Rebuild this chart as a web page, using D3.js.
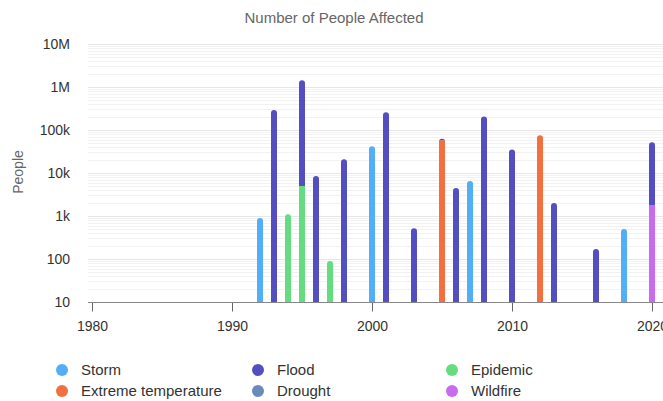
<!DOCTYPE html>
<html>
<head>
<meta charset="utf-8">
<script src="https://cdn.jsdelivr.net/npm/d3@7"></script>
<style>
  body { margin: 0; background: #fff; }
  svg { font-family: "Liberation Sans", Arial, Helvetica, sans-serif; }
</style>
</head>
<body>
<div id="chart"></div>
<script>
// data
const years      = [1992, 1993, 1994, 1995, 1996, 1997, 1998, 2000, 2001, 2003, 2005, 2006, 2007, 2008, 2010, 2012, 2013, 2016, 2018, 2020];
const storm      = [900, 0, 0, 0, 0, 0, 0, 42000, 0, 0, 0, 0, 6500, 0, 0, 0, 0, 0, 500, 0];
const extremeTmp = [0, 0, 0, 0, 0, 0, 0, 0, 0, 0, 58000, 0, 0, 0, 0, 76000, 0, 0, 0, 0];
const epidemic   = [0, 0, 1100, 5000, 0, 90, 0, 0, 0, 0, 0, 0, 0, 0, 0, 0, 0, 0, 0, 0];
const wildfire   = [0, 0, 0, 0, 0, 0, 0, 0, 0, 0, 0, 0, 0, 0, 0, 0, 0, 0, 0, 1800];
const drought    = [0, 0, 0, 0, 0, 0, 0, 0, 0, 0, 0, 0, 0, 0, 0, 0, 0, 0, 0, 0];
const flood      = [0, 290000, 0, 1440000, 8500, 0, 21000, 0, 260000, 520, 5000, 4500, 0, 205000, 35000, 0, 2000, 170, 0, 50000];

const yTicks      = [10, 100, 1e3, 1e4, 1e5, 1e6, 1e7];
const yTickLabels = ["10", "100", "1k", "10k", "100k", "1M", "10M"];
const xTicks      = [1980, 1990, 2000, 2010, 2020];

// stacking order, bottom first
const series = [
  {name: "Storm", values: storm, color: "#52aef7"},
  {name: "Extreme temperature", values: extremeTmp, color: "#f2703f"},
  {name: "Epidemic", values: epidemic, color: "#66dc80"},
  {name: "Wildfire", values: wildfire, color: "#c96bf0"},
  {name: "Drought", values: drought, color: "#6b8abc"},
  {name: "Flood", values: flood, color: "#544fc0"}
];
const legendOrder = ["Storm", "Flood", "Epidemic", "Extreme temperature", "Drought", "Wildfire"];

const width = 663, height = 401;
const svg = d3.select("#chart").append("svg")
    .attr("width", width)
    .attr("height", height);

const x = d3.scaleLinear().domain([1980, 2020]).range([92, 652]);
const y = d3.scaleLog().domain([10, 1e7]).range([302, 44]);
const plotLeft = 88, plotRight = 663;

// minor gridlines
let minor = [];
for (let p = 1; p < 7; p++) {
  for (let m = 2; m < 10; m++) minor.push(m * Math.pow(10, p));
}
svg.append("g").selectAll("line")
  .data(minor)
  .join("line")
    .attr("x1", plotLeft).attr("x2", plotRight)
    .attr("y1", d => Math.round(y(d)) + 0.5).attr("y2", d => Math.round(y(d)) + 0.5)
    .attr("stroke", "#f2f2f2");

// major gridlines
svg.append("g").selectAll("line")
  .data(yTicks.slice(1))
  .join("line")
    .attr("x1", plotLeft).attr("x2", plotRight)
    .attr("y1", d => Math.round(y(d)) + 0.5).attr("y2", d => Math.round(y(d)) + 0.5)
    .attr("stroke", "#e6e6e6");

// y labels
svg.append("g").selectAll("text")
  .data(yTicks)
  .join("text")
    .attr("x", 70)
    .attr("y", d => y(d) + 5)
    .attr("text-anchor", "end")
    .attr("font-size", 14)
    .attr("fill", "#333")
    .text((d, i) => yTickLabels[i]);

svg.append("text")
    .attr("transform", "translate(23,172) rotate(-90)")
    .attr("text-anchor", "middle")
    .attr("font-size", 14)
    .attr("fill", "#666")
    .text("People");

svg.append("text")
    .attr("x", 334).attr("y", 23)
    .attr("text-anchor", "middle")
    .attr("font-size", 15)
    .attr("fill", "#666")
    .text("Number of People Affected");

// stacked bars
const barW = 6;
const segs = [];
years.forEach((yr, i) => {
  let base = 0;
  const parts = series.filter(s => s.values[i] > 0);
  parts.forEach((s, k) => {
    const top = base + s.values[i];
    segs.push({year: yr, lo: base, hi: top, color: s.color, isTop: k === parts.length - 1});
    base = top;
  });
});

const bars = svg.append("g");
segs.forEach(d => {
  const x0 = x(d.year) - barW / 2;
  const yTop = y(d.hi);
  const yBot = d.lo > 0 ? y(d.lo) : y(10);
  const r = 3;
  let path;
  if (d.isTop) {
    path = `M${x0},${yBot} V${yTop + r} A${r},${r} 0 0 1 ${x0 + barW},${yTop + r} V${yBot} Z`;
  } else {
    path = `M${x0},${yBot} V${yTop} H${x0 + barW} V${yBot} Z`;
  }
  bars.append("path").attr("d", path).attr("fill", d.color);
});

// x axis
const xAxis = svg.append("g")
    .attr("transform", "translate(0,302.5)")
    .call(d3.axisBottom(x).tickValues(xTicks).tickFormat(d3.format("d")).tickSize(9).tickPadding(10));
xAxis.select(".domain").remove();
xAxis.append("line")
    .attr("x1", plotLeft).attr("x2", plotRight)
    .attr("stroke", "#888");
xAxis.selectAll(".tick line").attr("stroke", "#666");
xAxis.selectAll(".tick text")
    .attr("font-size", 14)
    .attr("font-family", "Liberation Sans, Arial, sans-serif")
    .attr("fill", "#333");

// legend
const legendX = [62, 258, 452];
const legendY = [370, 391];
const legend = svg.append("g");
legendOrder.forEach((name, i) => {
  const s = series.find(d => d.name === name);
  const cx = legendX[i % 3], cy = legendY[Math.floor(i / 3)];
  legend.append("circle").attr("cx", cx).attr("cy", cy).attr("r", 6).attr("fill", s.color);
  legend.append("text")
      .attr("x", cx + 19).attr("y", cy + 5)
      .attr("font-size", 15)
      .attr("fill", "#333")
      .text(name);
});
</script>
</body>
</html>
